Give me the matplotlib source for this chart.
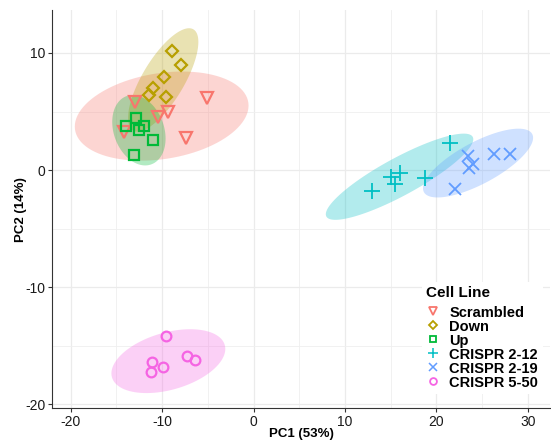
import numpy as np
import matplotlib.pyplot as plt
from matplotlib.lines import Line2D

plt.rcParams['font.family'] = ['Liberation Sans', 'DejaVu Sans']
plt.rcParams['axes.unicode_minus'] = False

# PCA scores per cell line
groups = ['Scrambled', 'Down', 'Up', 'CRISPR 2-12', 'CRISPR 2-19', 'CRISPR 5-50']
pc1 = {
    'Scrambled':   [-12.92, -5.11, -9.31, -10.47, -14.15, -7.41],
    'Down':        [-8.94, -7.96, -9.75, -10.95, -11.39, -9.56],
    'Up':          [-12.84, -13.97, -12.00, -12.55, -10.98, -13.03],
    'CRISPR 2-12': [21.48, 15.00, 16.01, 15.46, 12.92, 18.78],
    'CRISPR 2-19': [23.41, 26.25, 28.03, 23.55, 23.95, 22.06],
    'CRISPR 5-50': [-9.60, -11.06, -11.20, -9.92, -7.23, -6.43],
}
pc2 = {
    'Scrambled':   [5.83, 6.12, 4.92, 4.55, 3.22, 2.70],
    'Down':        [10.18, 8.96, 7.96, 6.97, 6.40, 6.25],
    'Up':          [4.46, 3.78, 3.75, 3.41, 2.56, 1.28],
    'CRISPR 2-12': [2.33, -0.57, -0.23, -1.22, -1.76, -0.63],
    'CRISPR 2-19': [1.19, 1.37, 1.37, 0.20, 0.51, -1.59],
    'CRISPR 5-50': [-14.14, -16.36, -17.21, -16.84, -15.84, -16.19],
}

colors = ['#F8766D', '#B79F00', '#00BA38', '#00BFC4', '#619CFF', '#F564E3']
markers = ['v', 'D', 's', '+', 'x', 'o']
msizes = [8, 6.5, 6.5, 11, 8.5, 7]


def cov_trob(data, nu=5, maxit=25, tol=0.01):
    # multivariate t estimate of location and scatter (as MASS::cov.trob)
    n, p = data.shape
    wt = np.ones(n)
    loc = data.mean(axis=0)
    w = np.sqrt(wt)
    for _ in range(maxit):
        w0 = w
        X = data - loc
        _, d, vt = np.linalg.svd(np.sqrt(w / w.sum())[:, None] * X, full_matrices=False)
        wX = X @ vt.T @ np.diag(1 / d)
        Q = (wX ** 2).sum(axis=1)
        w = wt * (nu + p) / (nu + Q)
        loc = (w[:, None] * data).sum(axis=0) / w.sum()
        if np.all(np.abs(w - w0) < tol):
            break
    cov = (np.sqrt(w)[:, None] * X).T @ (np.sqrt(w)[:, None] * X) / wt.sum()
    return loc, cov


def ellipse_path(x, y, level=0.95, seg=100):
    data = np.column_stack([x, y]).astype(float)
    n = len(data)
    center, cov = cov_trob(data)
    dfd = n - 1
    fq = dfd / 2.0 * ((1 - level) ** (-2.0 / dfd) - 1)
    r = np.sqrt(2 * fq)
    t = np.linspace(0, 2 * np.pi, seg + 1)
    circle = np.column_stack([np.cos(t), np.sin(t)])
    upper = np.linalg.cholesky(cov).T
    pts = center + r * circle @ upper
    return pts[:, 0], pts[:, 1]


fig = plt.figure(figsize=(5.51, 4.43), dpi=100)
ax = fig.add_axes([0.095, 0.079, 0.903, 0.898])

for g, c in zip(groups, colors):
    ex, ey = ellipse_path(pc1[g], pc2[g])
    ax.fill(ex, ey, color=c, alpha=0.3, lw=0, zorder=1)

for g, c, m, s in zip(groups, colors, markers, msizes):
    if m in ['+', 'x']:
        ax.plot(pc1[g], pc2[g], ls='none', marker=m, ms=s, mew=1.3, color=c, zorder=3)
    else:
        ax.plot(pc1[g], pc2[g], ls='none', marker=m, ms=s, mew=1.6,
                mfc='none', mec=c, zorder=3)

ax.set_xlim(-22, 32.4)
ax.set_ylim(-20.3, 13.65)
ax.set_xticks([-20, -10, 0, 10, 20, 30])
ax.set_yticks([-20, -10, 0, 10])
ax.set_xticks([-15, -5, 5, 15, 25], minor=True)
ax.set_yticks([-15, -5, 5], minor=True)
ax.grid(which='major', color='#EBEBEB', lw=0.9, zorder=0)
ax.grid(which='minor', color='#EFEFEF', lw=0.6, zorder=0)
ax.set_axisbelow(True)
for side in ['top', 'right']:
    ax.spines[side].set_visible(False)
for side in ['left', 'bottom']:
    ax.spines[side].set_color('#333333')
    ax.spines[side].set_linewidth(0.8)
ax.tick_params(which='major', length=3, width=0.8, color='#333333',
               labelsize=10, labelcolor='#1a1a1a', pad=2)
ax.tick_params(which='minor', length=0)

ax.set_xlabel('PC1 (53%)', fontsize=9.5, fontweight='bold')
ax.set_ylabel('PC2 (14%)', fontsize=9.5, fontweight='bold')
ax.xaxis.set_label_coords(0.5, -0.050)
ax.yaxis.set_label_coords(-0.051, 0.5)

# legend keys are drawn smaller than the points
handles = []
for g, c, m, s in zip(groups, colors, markers, msizes):
    if m in ['+', 'x']:
        h = Line2D([], [], ls='none', marker=m, ms=s * 0.7, mew=1.1, color=c)
    else:
        h = Line2D([], [], ls='none', marker=m, ms=s * 0.7, mew=1.3, mfc='none', mec=c)
    handles.append(h)
leg = ax.legend(handles, groups, title='Cell Line', loc='lower right',
                bbox_to_anchor=(1.0, 0.017), frameon=True, framealpha=1,
                edgecolor='none', facecolor='white', fancybox=False,
                prop={'weight': 'bold', 'size': 10.5}, labelspacing=0.0,
                handlelength=1.0, handletextpad=0.6, borderpad=0.3)
leg.get_title().set_fontweight('bold')
leg.get_title().set_fontsize(11)
leg._legend_box.align = 'left'
leg._legend_box.sep = 4

fig.savefig('out.png', dpi=100)
